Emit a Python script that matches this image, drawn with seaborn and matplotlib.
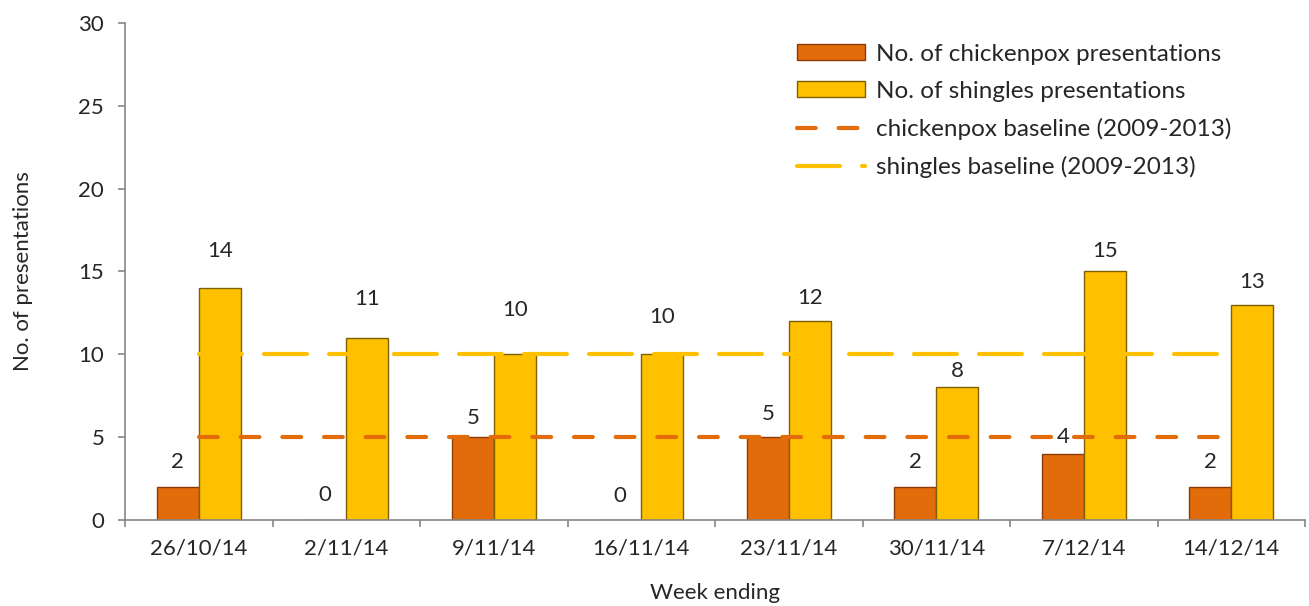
import pandas as pd
import matplotlib.pyplot as plt
import seaborn as sns
from matplotlib.patches import Patch
from matplotlib.lines import Line2D

# data
weeks = ["26/10/14", "2/11/14", "9/11/14", "16/11/14",
         "23/11/14", "30/11/14", "7/12/14", "14/12/14"]
chickenpox = [2, 0, 5, 0, 5, 2, 4, 2]
shingles = [14, 11, 10, 10, 12, 8, 15, 13]
chickenpox_baseline = [5] * len(weeks)
shingles_baseline = [10] * len(weeks)

# label offsets above bar tops (points), as placed in the original
cp_label_off = [18, 18, 14, 17, 17, 18, 12, 18]
sh_label_off = [27, 28, 32, 27, 17, 12, 15, 16]

CP_COLOR = "#E36C0A"
SH_COLOR = "#FFC000"
SPINE = "#868686"

series_names = ["No. of chickenpox presentations", "No. of shingles presentations"]
df = pd.DataFrame({
    "week": weeks * 2,
    "count": chickenpox + shingles,
    "series": [series_names[0]] * len(weeks) + [series_names[1]] * len(weeks),
})

sns.set_style("white")
plt.rcParams["font.family"] = ["Lato", "DejaVu Sans"]

fig = plt.figure(figsize=(13.09, 6.06), dpi=100)
ax = fig.add_axes([0.0955, 0.142, 0.9015, 0.820])

sns.barplot(data=df, x="week", y="count", hue="series", order=weeks,
            hue_order=series_names, palette=[CP_COLOR, SH_COLOR],
            saturation=1, width=0.57, linewidth=1.0, ax=ax, legend=False, zorder=2)

# edge colours per series
n = len(weeks)
for i, p in enumerate(ax.patches[:2 * n]):
    p.set_edgecolor("#8B3A08" if i < n else "#7F6000")

# baselines through the category centres
xs = list(range(n))
ax.plot(xs, shingles_baseline, color=SH_COLOR, lw=3, dashes=(10.3, 5.3),
        dash_capstyle="round", zorder=3)
ax.plot(xs, chickenpox_baseline, color=CP_COLOR, lw=3, dashes=(4.5, 5.5),
        dash_capstyle="round", zorder=3)

# data labels
bw = 0.57 / 2
for i in range(n):
    ax.annotate(str(chickenpox[i]), (i - bw / 2, chickenpox[i]),
                xytext=(0, cp_label_off[i]), textcoords="offset points",
                ha="center", va="center", fontsize=16, zorder=4)
    ax.annotate(str(shingles[i]), (i + bw / 2, shingles[i]),
                xytext=(0, sh_label_off[i]), textcoords="offset points",
                ha="center", va="center", fontsize=16, zorder=4)

ax.set_xlim(-0.5, n - 0.5)
ax.set_ylim(0, 30)
ax.set_yticks(range(0, 31, 5))
ax.set_xticks(xs)
ax.set_xticklabels(weeks)
ax.set_xticks([x + 0.5 for x in range(-1, n)], minor=True)

for s in ["top", "right"]:
    ax.spines[s].set_visible(False)
for s in ["left", "bottom"]:
    ax.spines[s].set_color(SPINE)
    ax.spines[s].set_linewidth(1.2)

ax.tick_params(axis="y", which="major", left=True, length=5, width=1.2,
               color=SPINE, labelsize=16, pad=10)
ax.tick_params(axis="x", which="major", bottom=True, length=0, labelsize=16, pad=13)
ax.tick_params(axis="x", which="minor", bottom=True, length=5, width=1.2, color=SPINE)

ax.set_xlabel("Week ending", fontsize=16, labelpad=18)
ax.set_ylabel("No. of presentations", fontsize=16, labelpad=33)

handles = [
    Patch(facecolor=CP_COLOR, edgecolor="#8B3A08", linewidth=1.0),
    Patch(facecolor=SH_COLOR, edgecolor="#7F6000", linewidth=1.0),
    Line2D([0], [0], color=CP_COLOR, lw=3, dashes=(4.5, 5.5), dash_capstyle="round"),
    Line2D([0], [0], color=SH_COLOR, lw=3, dashes=(10.3, 5.3), dash_capstyle="round"),
]
labels = series_names + ["chickenpox baseline (2009-2013)", "shingles baseline (2009-2013)"]
ax.legend(handles, labels, loc="upper left", bbox_to_anchor=(0.552, 1.0),
          frameon=False, fontsize=17.5, handlelength=2.8, handleheight=0.65,
          handletextpad=0.45, labelspacing=0.66, borderaxespad=0.45)

plt.savefig("out.png", dpi=100)
